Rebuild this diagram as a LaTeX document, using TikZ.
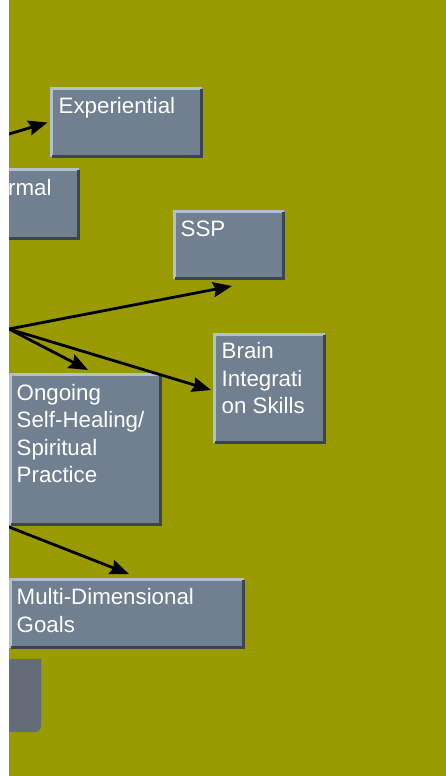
\documentclass[tikz,border=0pt]{standalone}
\usepackage{fontspec}
\setmainfont{Liberation Sans}
\usetikzlibrary{arrows.meta}

\definecolor{olivebg}{RGB}{153,153,0}
\definecolor{slatebox}{RGB}{112,128,144}
\definecolor{bevellit}{RGB}{178,192,204}
\definecolor{beveldark}{RGB}{60,68,80}
\definecolor{stubgray}{RGB}{100,108,122}

\begin{document}
\begin{tikzpicture}[x=1pt,y=-1pt]
		\tikzstyle{box}=[rectangle,fill=slatebox,inner sep=0pt,outer sep=0pt]
		\tikzstyle{box text}=[anchor=north west,inner sep=0pt,text=white,align=left,font=\fontsize{22.3}{27.5}\selectfont]
		\tikzstyle{bevel lit}=[draw=bevellit,line width=3pt]
		\tikzstyle{bevel dark}=[draw=beveldark,line width=3pt]
		\tikzstyle{link}=[-{Stealth[length=19pt,width=15pt,inset=2.5pt]},line width=2.8pt,black]

		\useasboundingbox (0,0) rectangle (446,776);
		\fill[olivebg] (9,0) rectangle (446,776);

			% Draw the boxes (name / left / top / width / height)
		\foreach \name/\x/\y/\w/\h in {exp/50/87/153/71,frm/-10/168/90/72,ssp/173/210/112/70,brain/213/333/113/111,ong/9/373/153/153,multi/9/578/236/71}
		\node[box,minimum width=\w-3,minimum height=\h-3] (\name) at (\x+\w/2,\y+\h/2) {};

			% Bevelled edges
		\foreach \b in {exp,frm,ssp,brain,ong,multi}
		{
		\draw[bevel lit] (\b.south west) -- (\b.north west) -- (\b.north east);
		\draw[bevel dark] (\b.north east) -- (\b.south east) -- (\b.south west);
		}

			% Box texts
		\node[box text] (exp-t) at ([shift={(7,9)}]exp.north west) {Experiential};
		\node[box text] (frm-t) at (8,179) {rmal};
		\node[box text] (ssp-t) at ([shift={(6,9)}]ssp.north west) {SSP};
		\node[box text] (brain-t) at ([shift={(7,8)}]brain.north west) {Brain\\Integrati\\on Skills};
		\node[box text] (ong-t) at ([shift={(6,9.5)}]ong.north west) {Ongoing\\Self-Healing/\\Spiritual\\Practice};
		\node[box text] (multi-t) at ([shift={(6,9)}]multi.north west) {Multi-Dimensional\\Goals};

			% Connectors
		\coordinate (hub) at (9,329);
		\coordinate (exp-src) at (9,134);
		\coordinate (ong-src) at (9,527);
		\draw[link] (exp-src) -- ([xshift=-4pt]exp.west);
		\draw[link] (hub) -- ([shift={(3,7.5)}]ssp.south);
		\draw[link] (hub) -- ([shift={(2.5,-4.5)}]ong.north);
		\draw[link] (hub) -- ([shift={(-3.5,1.5)}]brain.west);
		\draw[link] (ong-src) -- ([shift={(2,-5.5)}]multi.north);

			% Partly hidden box at the bottom
		\fill[stubgray] (0,659) -- (41,659) -- (41,726) to[out=-90,in=0] (35,732) -- (0,732) -- cycle;

		\fill[white] (0,0) rectangle (9,776);
\end{tikzpicture}
\end{document}
